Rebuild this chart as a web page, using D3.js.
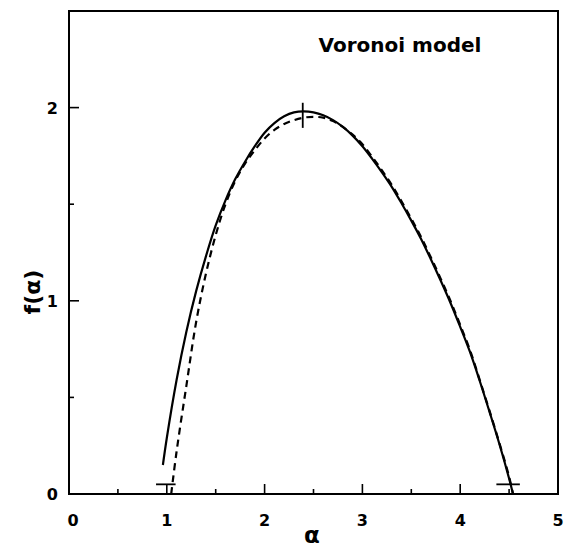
<!DOCTYPE html>
<html><head><meta charset="utf-8">
<script src="https://cdn.jsdelivr.net/npm/d3@7"></script>
<style>body{margin:0;background:#fff}svg{display:block}text{font-family:"DejaVu Sans",sans-serif;font-weight:bold;fill:#000}</style>
</head><body>
<svg id="c" width="569" height="550"></svg>
<script>
// data
const solidAlpha = [0.96,1.0,1.1,1.2,1.3,1.4,1.5,1.6,1.7,1.8,1.9,2.0,2.1,2.2,2.3,2.4,2.5,2.6,2.7,2.8,2.9,3.0,3.1,3.2,3.3,3.4,3.5,3.6,3.7,3.8,3.9,4.0,4.1,4.2,4.3,4.4,4.5,4.54];
const solidF     = [0.15,0.29,0.59,0.84,1.05,1.23,1.39,1.52,1.63,1.72,1.80,1.87,1.92,1.955,1.975,1.98,1.975,1.96,1.935,1.90,1.855,1.80,1.735,1.665,1.59,1.505,1.415,1.32,1.215,1.105,0.99,0.865,0.735,0.585,0.425,0.26,0.08,0.00];
const dashAlpha  = [1.045,1.1,1.2,1.3,1.4,1.5,1.6,1.7,1.8,1.9,2.0,2.1,2.2,2.3,2.4,2.5,2.6,2.7,2.8,2.9,3.0,3.1,3.2,3.3,3.4,3.5,3.6,3.7,3.8,3.9,4.0,4.1,4.2,4.3,4.4,4.5,4.54];
const dashF      = [0.00,0.22,0.56,0.89,1.14,1.34,1.50,1.62,1.71,1.78,1.84,1.885,1.915,1.935,1.948,1.952,1.948,1.93,1.90,1.86,1.81,1.745,1.675,1.60,1.515,1.425,1.33,1.225,1.115,1.00,0.875,0.745,0.59,0.43,0.265,0.09,0.00];
// error bars: [alpha, f, dAlpha, dF]
const errAlpha = [0.99, 2.39, 4.49];
const errF     = [0.05, 1.96, 0.05];
const errDA    = [0.10, 0.00, 0.12];
const errDF    = [0.00, 0.065, 0.00];
const xTicks = [0,1,2,3,4,5];
const yTicks = [0,1,2];
const title = "Voronoi model";

const svg = d3.select("#c");
const x = d3.scaleLinear().domain([0,5]).range([69,558]);
const y = d3.scaleLinear().domain([0,2.5]).range([494,11]);

// frame
svg.append("rect").attr("x",x(0)).attr("y",y(2.5)).attr("width",x(5)-x(0)).attr("height",y(0)-y(2.5))
  .attr("fill","none").attr("stroke","#000").attr("stroke-width",2);

// ticks (inward)
const g = svg.append("g");
d3.range(0,5.01,0.5).forEach(v=>{
  const major = Math.abs(v-Math.round(v))<1e-6;
  g.append("line").attr("x1",x(v)).attr("x2",x(v)).attr("y1",y(0)).attr("y2",y(0)-(major?10:5)).attr("stroke","#000").attr("stroke-width",1.6);
});
d3.range(0,2.51,0.5).forEach(v=>{
  const major = Math.abs(v-Math.round(v))<1e-6;
  g.append("line").attr("y1",y(v)).attr("y2",y(v)).attr("x1",x(0)).attr("x2",x(0)+(major?10:5)).attr("stroke","#000").attr("stroke-width",1.6);
});
xTicks.forEach(v=>{
  svg.append("text").attr("x",x(v)+(v===0?4:0)).attr("y",526).attr("text-anchor","middle").attr("font-size",16).text(v);
});
yTicks.forEach(v=>{
  svg.append("text").attr("x",58).attr("y",y(v)+6).attr("text-anchor","end").attr("font-size",16).text(v);
});

// axis labels
svg.append("text").attr("x",312).attr("y",543).attr("text-anchor","middle").attr("font-size",23).text("α");
svg.append("text").attr("transform","translate(40,292) rotate(-90)").attr("text-anchor","middle").attr("font-size",22).text("f(α)");
svg.append("text").attr("x",400).attr("y",52).attr("text-anchor","middle").attr("font-size",20).text(title);

const line = d3.line().x(d=>x(d[0])).y(d=>y(d[1])).curve(d3.curveCatmullRom);
svg.append("path").datum(solidAlpha.map((a,i)=>[a,solidF[i]])).attr("d",line)
  .attr("fill","none").attr("stroke","#000").attr("stroke-width",2.2);
svg.append("path").datum(dashAlpha.map((a,i)=>[a,dashF[i]])).attr("d",line)
  .attr("fill","none").attr("stroke","#000").attr("stroke-width",2.2).attr("stroke-dasharray","7,5");

// error bars
errAlpha.forEach((a,i)=>{
  if (errDA[i]>0) svg.append("line").attr("x1",x(a-errDA[i])).attr("x2",x(a+errDA[i])).attr("y1",y(errF[i])).attr("y2",y(errF[i])).attr("stroke","#000").attr("stroke-width",1.8);
  if (errDF[i]>0) svg.append("line").attr("x1",x(a)).attr("x2",x(a)).attr("y1",y(errF[i]-errDF[i])).attr("y2",y(errF[i]+errDF[i])).attr("stroke","#000").attr("stroke-width",1.8);
});
</script>
</body></html>
